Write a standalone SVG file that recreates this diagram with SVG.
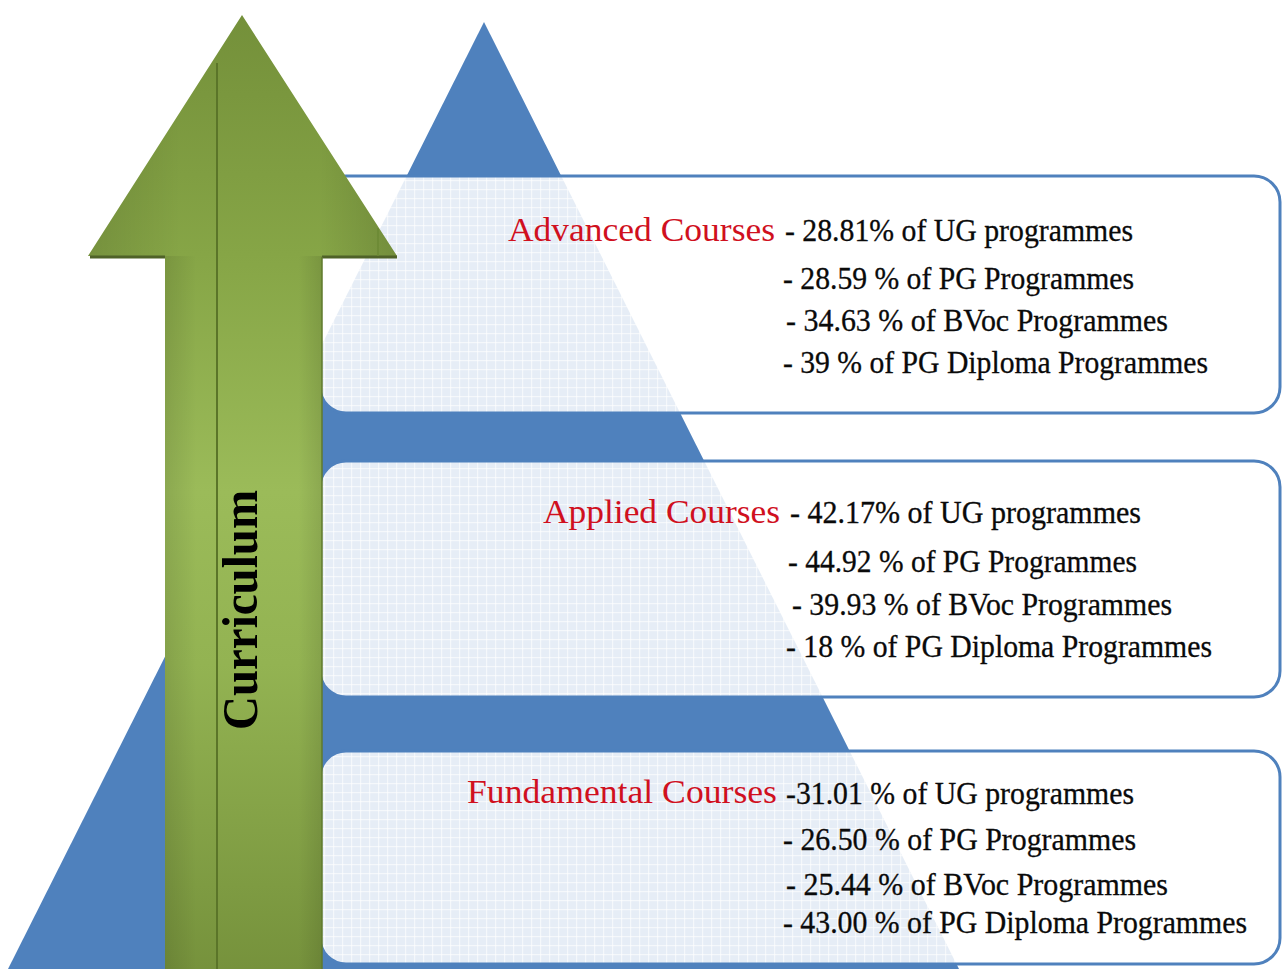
<svg xmlns="http://www.w3.org/2000/svg" width="1282" height="969" viewBox="0 0 1282 969">
  <defs>
    <pattern id="grid" width="9" height="9" patternUnits="userSpaceOnUse">
      <rect width="9" height="9" fill="#ffffff" fill-opacity="0.86"/>
      <rect x="0" y="0" width="9" height="1.2" fill="#ffffff" fill-opacity="0.6"/>
      <rect x="0" y="0" width="1.2" height="9" fill="#ffffff" fill-opacity="0.6"/>
    </pattern>
    <linearGradient id="arrowV" gradientUnits="userSpaceOnUse" x1="0" y1="15" x2="0" y2="969">
      <stop offset="0" stop-color="#74903a"/>
      <stop offset="0.25" stop-color="#86a546"/>
      <stop offset="0.5" stop-color="#9bbb59"/>
      <stop offset="0.68" stop-color="#93b352"/>
      <stop offset="1" stop-color="#76923c"/>
    </linearGradient>
    <linearGradient id="headH" gradientUnits="userSpaceOnUse" x1="88" y1="0" x2="397" y2="0">
      <stop offset="0" stop-color="#000" stop-opacity="0.12"/>
      <stop offset="0.3" stop-color="#000" stop-opacity="0"/>
      <stop offset="0.75" stop-color="#000" stop-opacity="0"/>
      <stop offset="1" stop-color="#000" stop-opacity="0.14"/>
    </linearGradient>
    <linearGradient id="shaftH" gradientUnits="userSpaceOnUse" x1="165" y1="0" x2="322" y2="0">
      <stop offset="0" stop-color="#000" stop-opacity="0.1"/>
      <stop offset="0.2" stop-color="#000" stop-opacity="0"/>
      <stop offset="0.85" stop-color="#000" stop-opacity="0"/>
      <stop offset="1" stop-color="#000" stop-opacity="0.1"/>
    </linearGradient>
  </defs>
  <style>
    .box { fill: url(#grid); stroke: #4f81bd; stroke-width: 3; }
    .lbl { font-family: "Liberation Serif", "Times New Roman", serif; font-size: 33px; fill: #d0101e; }
    .val { font-family: "Liberation Serif", "Times New Roman", serif; font-size: 31px; fill: #0a0a0a; stroke: #0a0a0a; stroke-width: 0.3; }
    .cur { font-family: "Liberation Serif", "Times New Roman", serif; font-size: 50px; font-weight: bold; fill: #000000; }
  </style>
  <rect width="1282" height="969" fill="#ffffff"/>

  <g id="pyramid">
    <polygon points="484,22 962,975 5,975" fill="#4f81bd"/>
  </g>

  <g id="box-advanced">
    <rect class="box" x="320" y="176" width="960" height="237" rx="26" ry="26"/>
  </g>
  <g id="box-applied">
    <rect class="box" x="320" y="461" width="960" height="236" rx="26" ry="26"/>
  </g>
  <g id="box-fundamental">
    <rect class="box" x="320" y="751" width="960" height="213" rx="26" ry="26"/>
  </g>

  <g id="arrow">
    <polygon points="242,15 397,256 322,256 322,975 165,975 165,256 88,256" fill="url(#arrowV)"/>
    <polygon points="242,15 397,256 88,256" fill="url(#headH)"/>
    <rect x="165" y="256" width="157" height="719" fill="url(#shaftH)"/>
    <line x1="90" y1="257" x2="165" y2="257" stroke="#4f6228" stroke-width="3"/>
    <line x1="322" y1="257" x2="397" y2="257" stroke="#4f6228" stroke-width="3"/>
    <line x1="217" y1="63" x2="217" y2="975" stroke="#5b7529" stroke-width="2"/>
    <line x1="378" y1="228" x2="378" y2="256" stroke="#6b8834" stroke-width="1.5"/>
    <line x1="322" y1="257" x2="322" y2="975" stroke="#5f7a2c" stroke-width="1.5"/>
    <text class="cur" transform="translate(257,730) rotate(-90)" x="0" y="0" textLength="240" lengthAdjust="spacingAndGlyphs">Curriculum</text>
  </g>

  <g id="text-advanced">
    <text class="lbl" x="508" y="241" textLength="267" lengthAdjust="spacingAndGlyphs">Advanced Courses</text>
    <text class="val" x="785" y="241" textLength="348" lengthAdjust="spacingAndGlyphs">- 28.81% of UG programmes</text>
    <text class="val" x="783" y="289" textLength="351" lengthAdjust="spacingAndGlyphs">- 28.59 % of PG Programmes</text>
    <text class="val" x="786" y="331" textLength="382" lengthAdjust="spacingAndGlyphs">- 34.63 % of BVoc Programmes</text>
    <text class="val" x="783" y="373" textLength="425" lengthAdjust="spacingAndGlyphs">- 39 % of PG Diploma Programmes</text>
  </g>
  <g id="text-applied">
    <text class="lbl" x="543" y="523" textLength="237" lengthAdjust="spacingAndGlyphs">Applied Courses</text>
    <text class="val" x="790" y="523" textLength="351" lengthAdjust="spacingAndGlyphs">- 42.17% of UG programmes</text>
    <text class="val" x="788" y="572" textLength="349" lengthAdjust="spacingAndGlyphs">- 44.92 % of PG Programmes</text>
    <text class="val" x="792" y="615" textLength="380" lengthAdjust="spacingAndGlyphs">- 39.93 % of BVoc Programmes</text>
    <text class="val" x="786" y="657" textLength="426" lengthAdjust="spacingAndGlyphs">- 18 % of PG Diploma Programmes</text>
  </g>
  <g id="text-fundamental">
    <text class="lbl" x="467" y="803" textLength="310" lengthAdjust="spacingAndGlyphs">Fundamental Courses</text>
    <text class="val" x="786" y="804" textLength="348" lengthAdjust="spacingAndGlyphs">-31.01 % of UG programmes</text>
    <text class="val" x="783" y="850" textLength="353" lengthAdjust="spacingAndGlyphs">- 26.50 % of PG Programmes</text>
    <text class="val" x="786" y="895" textLength="382" lengthAdjust="spacingAndGlyphs">- 25.44 % of BVoc Programmes</text>
    <text class="val" x="783" y="933" textLength="464" lengthAdjust="spacingAndGlyphs">- 43.00 % of PG Diploma Programmes</text>
  </g>
</svg>
